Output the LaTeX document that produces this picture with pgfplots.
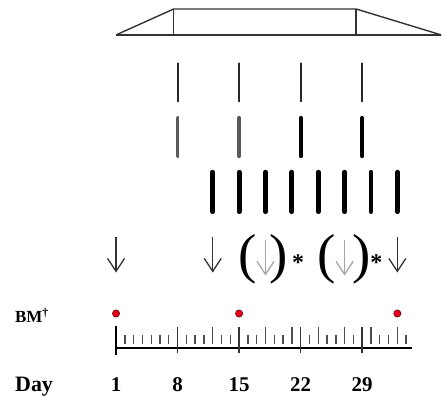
\documentclass[border=0pt]{standalone}
\usepackage{pgfplots}
\pgfplotsset{compat=1.18}
\usepackage{fontspec}
\setmainfont{Liberation Serif}
\usetikzlibrary{arrows.meta}
\definecolor{dotred}{HTML}{E8001C}
\definecolor{dotedge}{HTML}{5A0000}
\begin{document}
\begin{tikzpicture}
\begin{axis}[width=442pt,height=398pt,scale only axis,hide axis,
  xmin=-12.2,xmax=38,ymin=0,ymax=398,clip=false,unbounded coords=jump]
\path (rel axis cs:0,0) rectangle (rel axis cs:1,1);
% schedule trapezoid
\addplot[line width=1.4pt,color=black!80,line join=round] coordinates {(1,363) (38,363)};
\addplot[line width=1.4pt,color=black!80,line join=round] coordinates {(1,363) (7.56,389) (28.3,389) (38,363)};
\addplot[line width=1.4pt,color=black!80] coordinates {(7.56,363) (7.56,389)};
\addplot[line width=1.4pt,color=black!80] coordinates {(28.3,363) (28.3,389)};
% row 2 thin bars
\pgfplotsinvokeforeach{8,15,22,29}{\addplot[line width=2pt,color=black!85,line cap=round] coordinates {(#1,296.5) (#1,334.5)};}
% row 3 medium bars
\pgfplotsinvokeforeach{8,15}{\addplot[line width=3.8pt,color=black!65,line cap=round] coordinates {(#1,241.5) (#1,280)};}
\pgfplotsinvokeforeach{22,29}{\addplot[line width=3.8pt,color=black,line cap=round] coordinates {(#1,241.5) (#1,280)};}
% row 4 thick bars
\pgfplotsinvokeforeach{12,15,18,21,24,27,30,33}{\addplot[line width=4.8pt,color=black,line cap=round] coordinates {(#1,186) (#1,225.5)};}
% arrows
\pgfplotsinvokeforeach{1,12,33}{\addplot[line width=1.3pt,color=black!80,-{Straight Barb[length=13pt,width=17pt]}] coordinates {(#1,161) (#1,125)};}
\pgfplotsinvokeforeach{18,27}{\addplot[line width=1.3pt,color=black!35,-{Straight Barb[length=13pt,width=17pt]}] coordinates {(#1,158) (#1,122)};}
\node[anchor=base,inner sep=0pt,font=\fontsize{55}{55}\selectfont] at (axis cs:15.97,125.5) {(};
\node[anchor=base,inner sep=0pt,font=\fontsize{55}{55}\selectfont] at (axis cs:19.45,125.5) {)};
\node[anchor=base,inner sep=0pt,font=\fontsize{24}{24}\selectfont\bfseries] at (axis cs:21.7,127) {*};
\node[anchor=base,inner sep=0pt,font=\fontsize{55}{55}\selectfont] at (axis cs:24.94,125.5) {(};
\node[anchor=base,inner sep=0pt,font=\fontsize{55}{55}\selectfont] at (axis cs:28.9,125.5) {)};
\node[anchor=base,inner sep=0pt,font=\fontsize{24}{24}\selectfont\bfseries] at (axis cs:30.6,127) {*};
% BM dots
\addplot[only marks,mark=*,mark size=3.6pt,mark options={fill=dotred,draw=dotedge,line width=0.6pt}] coordinates {(1,84) (15,84) (33,84)};
% ruler
\addplot[line width=2pt,color=black] coordinates {(1,49) (34.7,49)};
\addplot[line width=2.4pt,color=black] coordinates {(1,42) (1,71)};
\pgfplotsinvokeforeach{2,3,4,5,6,7,9,10,11,13,14,16,17,19,20,23,25,26,28,31,32,34}{\addplot[line width=1.4pt,color=black!70] coordinates {(#1,53) (#1,62)};}
\pgfplotsinvokeforeach{12,18,21,24,27,30,33}{\addplot[line width=1.4pt,color=black!70] coordinates {(#1,53) (#1,70)};}
\pgfplotsinvokeforeach{8,15,22,29}{\addplot[line width=1.4pt,color=black!80] coordinates {(#1,44) (#1,70)};}
% labels
\node[anchor=base west,inner sep=0pt,font=\fontsize{17}{17}\selectfont\bfseries] at (axis cs:-10.5,75) {BM\textsuperscript{†}};
\node[anchor=base west,inner sep=0pt,font=\fontsize{22}{22}\selectfont\bfseries] at (axis cs:-10.5,6) {Day};
\pgfplotsinvokeforeach{1,8,15,22,29}{\node[anchor=base,inner sep=0pt,font=\fontsize{21}{21}\selectfont\bfseries] at (axis cs:#1,6) {#1};}
\end{axis}
\end{tikzpicture}
\end{document}
